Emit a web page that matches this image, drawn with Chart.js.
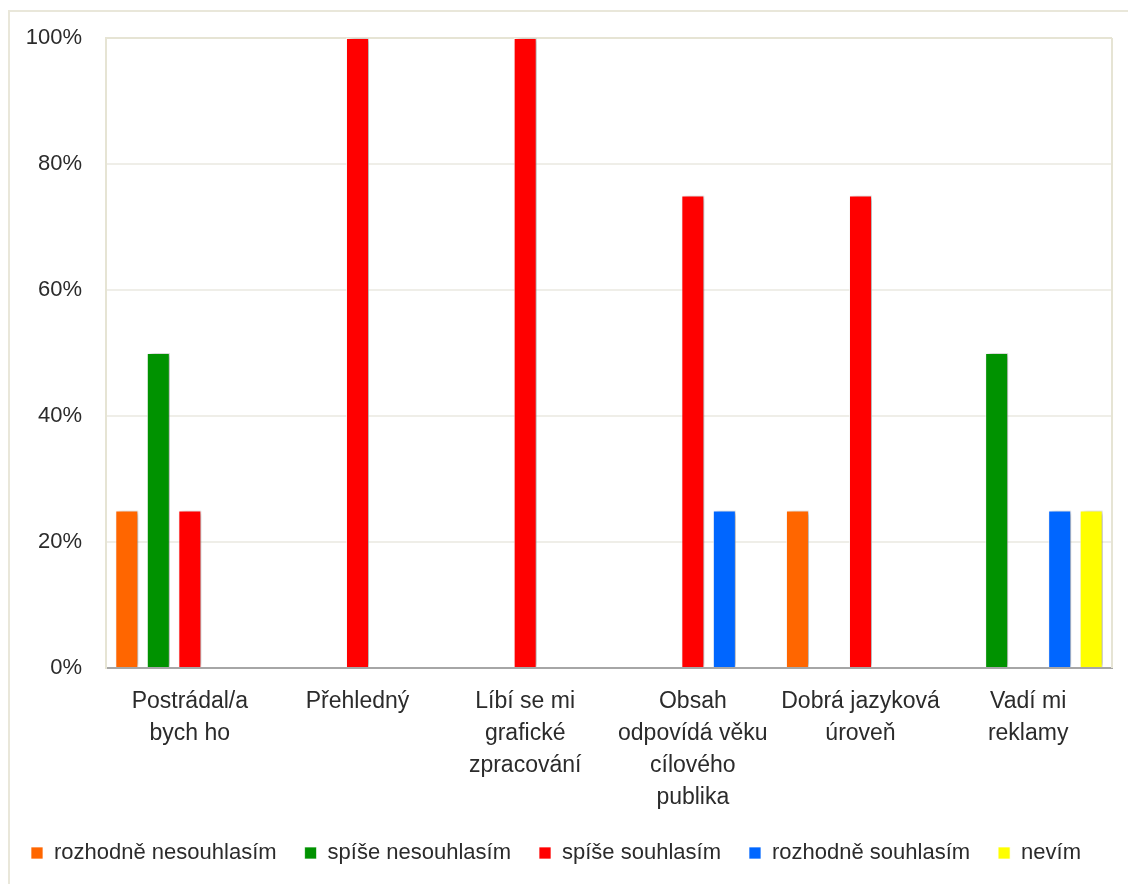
<!DOCTYPE html>
<html>
<head>
<meta charset="utf-8">
<script src="https://cdn.jsdelivr.net/npm/chart.js@4/dist/chart.umd.min.js"></script>
<style>
  html, body { margin: 0; padding: 0; background: #fff; }
  #box { position: relative; width: 1128px; height: 884px; overflow: hidden; }
  #frame { position: absolute; left: 8px; top: 10px; width: 1200px; height: 1000px;
           border-left: 2px solid #e9e7da; border-top: 2px solid #e9e7da; }
  #wrap { position: absolute; left: 0; top: 0; width: 1128px; height: 884px; }
</style>
</head>
<body>
<div id="box">
  <div id="frame"></div>
  <div id="wrap"><canvas id="myChart"></canvas></div>
</div>
<script>
let kategorie = [
    ["Postrádal/a", "bych ho"],
    "Přehledný",
    ["Líbí se mi", "grafické", "zpracování"],
    ["Obsah", "odpovídá věku", "cílového", "publika"],
    ["Dobrá jazyková", "úroveň"],
    ["Vadí mi", "reklamy"]
];
let odpovedi = ["rozhodně nesouhlasím", "spíše nesouhlasím", "spíše souhlasím", "rozhodně souhlasím", "nevím"];
let barvy = ["#ff6600", "#009200", "#ff0000", "#0066ff", "#ffff00"];

// podíly odpovědí v % pro každou otázku
let rozhodneNe = [25, 0, 0, 0, 25, 0];
let spiseNe    = [50, 0, 0, 0, 0, 50];
let spiseAno   = [25, 100, 100, 75, 75, 0];
let rozhodneAno = [0, 0, 0, 25, 0, 25];
let nevim      = [0, 0, 0, 0, 0, 25];

let hodnoty = [rozhodneNe, spiseNe, spiseAno, rozhodneAno, nevim];
let osaY = [0, 20, 40, 60, 80, 100];

const pismo = "'Liberation Sans', Arial, sans-serif";
const textBarva = "#2b2b2b";

// stín vpravo od sloupců
const stin = {
    id: "stin",
    beforeDatasetDraw(chart) {
        const ctx = chart.ctx;
        ctx.save();
        ctx.shadowColor = "rgba(0,0,0,0.35)";
        ctx.shadowBlur = 5;
        ctx.shadowOffsetX = 3;
        ctx.shadowOffsetY = 0;
    },
    afterDatasetDraw(chart) {
        chart.ctx.restore();
    }
};

// pravý okraj plochy grafu
const ramecek = {
    id: "ramecek",
    beforeDatasetsDraw(chart) {
        const a = chart.chartArea;
        const ctx = chart.ctx;
        ctx.save();
        ctx.strokeStyle = "#e6e4d4";
        ctx.lineWidth = 2;
        ctx.beginPath();
        ctx.moveTo(a.right, a.top);
        ctx.lineTo(a.right, a.bottom);
        ctx.stroke();
        ctx.restore();
    }
};

new Chart("myChart", {
    type: "bar",
    data: {
        labels: kategorie,
        datasets: odpovedi.map((nazev, i) => ({
            label: nazev,
            data: hodnoty[i],
            backgroundColor: barvy[i],
            borderColor: "rgba(255,255,255,0.7)",
            borderWidth: 1,
            categoryPercentage: 0.94,
            barPercentage: 0.73
        }))
    },
    options: {
        responsive: true,
        maintainAspectRatio: false,
        animation: false,
        layout: { padding: { top: 38, right: 16, bottom: 10, left: 0 } },
        plugins: {
            legend: {
                position: "bottom",
                labels: {
                    boxWidth: 12,
                    boxHeight: 12,
                    padding: 28,
                    color: textBarva,
                    font: { family: pismo, size: 22 }
                }
            },
            tooltip: { enabled: false }
        },
        scales: {
            x: {
                grid: { display: false },
                border: { color: "#a6a6a6", width: 2 },
                ticks: {
                    color: textBarva,
                    maxRotation: 0,
                    autoSkip: false,
                    padding: 10,
                    font: { family: pismo, size: 23, lineHeight: 1.39 }
                },
                afterFit: (osa) => { osa.height = 146; }
            },
            y: {
                min: 0,
                max: 100,
                afterBuildTicks: (osa) => { osa.ticks = osaY.map(v => ({ value: v })); },
                grid: {
                    drawTicks: false,
                    lineWidth: 2,
                    color: (c) => c.tick.value === 100 ? "#e6e4d4" : (c.tick.value === 0 ? "#a6a6a6" : "#efeee8")
                },
                border: { color: "#e6e4d4", width: 2 },
                ticks: {
                    color: textBarva,
                    padding: 24,
                    font: { family: pismo, size: 22 },
                    callback: (v) => v + "%"
                },
                afterFit: (osa) => { osa.width = 106; }
            }
        }
    },
    plugins: [stin, ramecek]
});
</script>
</body>
</html>
